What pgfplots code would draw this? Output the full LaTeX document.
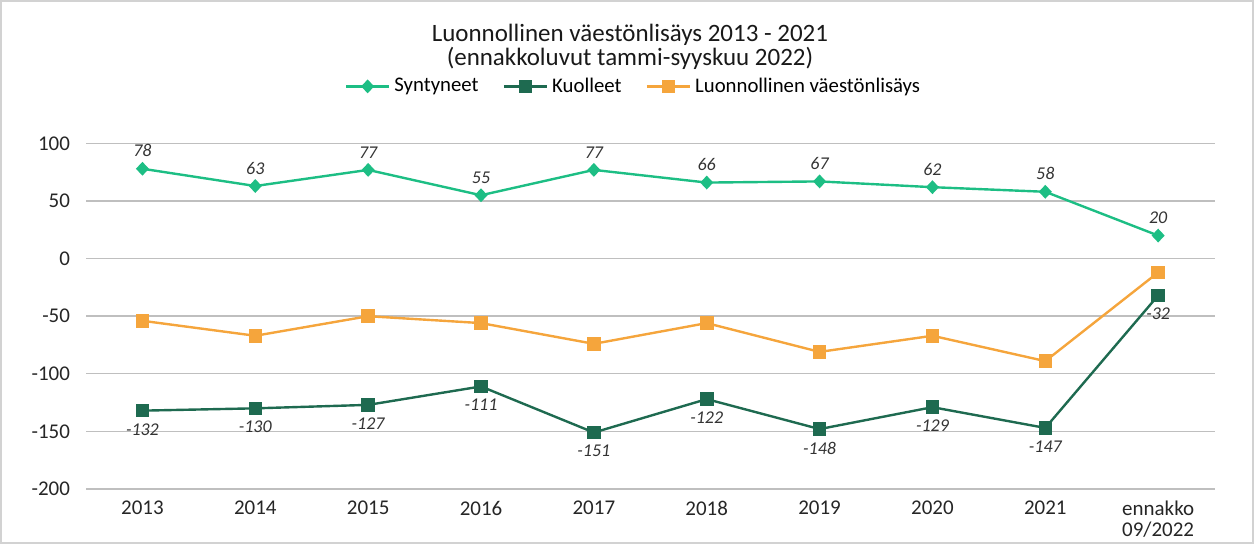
\documentclass[border=0pt]{standalone}
\usepackage{pgfplots}
\pgfplotsset{compat=1.18}
\usepackage{fontspec}
\setmainfont{Carlito}
\definecolor{cSyn}{HTML}{1DBE84}
\definecolor{cKuo}{HTML}{1E6A50}
\definecolor{cLuo}{HTML}{F5A53C}
\definecolor{cGrid}{HTML}{BFBFBF}
\begin{document}
\begin{tikzpicture}[x=0.5pt,y=0.5pt]
\draw[use as bounding box, draw=gray!35, line width=0.8pt] (0,0) rectangle (1254,543);
\begin{axis}[
  at={(75.5,47)}, anchor=south west,
  scale only axis, width=565pt, height=173pt,
  xmin=-0.5, xmax=9.5, ymin=-200, ymax=100,
  xtick={0,...,9},
  xticklabels={2013,2014,2015,2016,2017,2018,2019,2020,2021,{ennakko\\09/2022}},
  xticklabel style={align=center, font=\fontsize{10.5}{10.5}\selectfont, text=black!85, anchor=north, yshift=-2.5pt},
  ytick={-200,-150,...,100},
  yticklabel style={font=\fontsize{10.5}{11.5}\selectfont, text=black!85, xshift=-4.5pt},
  /pgf/number format/assume math mode=true,
  axis line style={draw=none},
  major tick length=0pt,
  ymajorgrids, grid style={cGrid, line width=0.7pt},
  clip=false,
  legend columns=3,
  legend style={draw=none, at={(0.486,1.165)}, anchor=center, font=\fontsize{10.4}{11}\selectfont, /tikz/every even column/.append style={column sep=10pt}},
  legend image code/.code={\draw[mark repeat=2, mark phase=2] plot coordinates {(0cm,0cm) (0.38cm,0cm) (0.76cm,0cm)};},
  legend cell align=left,
  nodes near coords style={font=\fontsize{9}{10}\selectfont\itshape, text=black!80},
]
\addplot[cSyn, line width=1.2pt, mark=diamond*, mark size=2.6pt, mark options={solid, xscale=1.25},
  nodes near coords, nodes near coords align={above}, every node near coord/.append style={yshift=2pt}]
  coordinates {(0,78) (1,63) (2,77) (3,55) (4,77) (5,66) (6,67) (7,62) (8,58) (9,20)};
\addlegendentry{Syntyneet}
\addplot[cKuo, line width=1.2pt, mark=square*, mark size=2.8pt,
  nodes near coords, nodes near coords align={below}, every node near coord/.append style={yshift=-2.5pt}]
  coordinates {(0,-132) (1,-130) (2,-127) (3,-111) (4,-151) (5,-122) (6,-148) (7,-129) (8,-147) (9,-32)};
\addlegendentry{Kuolleet}
\addplot[cLuo, line width=1.2pt, mark=square*, mark size=2.8pt]
  coordinates {(0,-54) (1,-67) (2,-50) (3,-56) (4,-74) (5,-56) (6,-81) (7,-67) (8,-89) (9,-12)};
\addlegendentry{Luonnollinen väestönlisäys}
\node[align=center, font=\fontsize{12.5}{10.5}\selectfont, text=black!90] at (rel axis cs:0.482,1.28)
  {Luonnollinen väestönlisäys 2013 - 2021\\(ennakkoluvut tammi-syyskuu 2022)};
\end{axis}
\end{tikzpicture}
\end{document}
